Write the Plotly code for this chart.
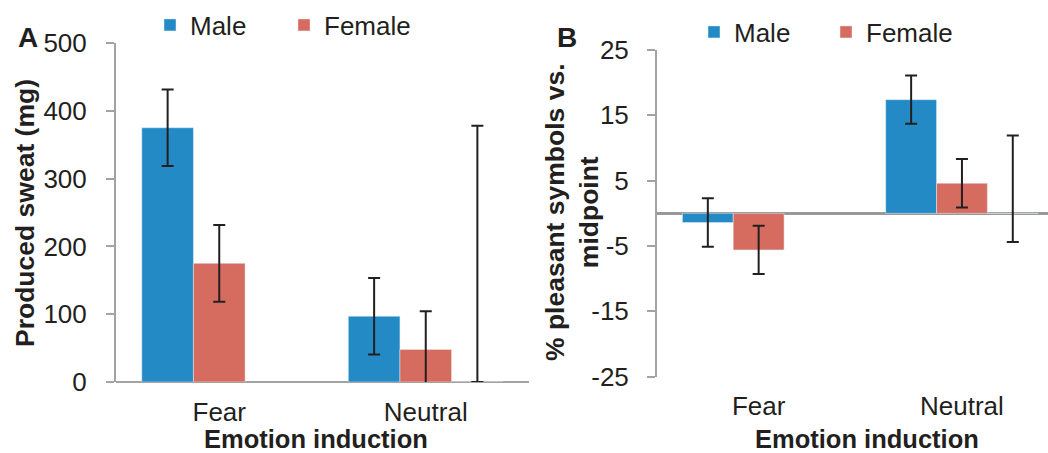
import plotly.graph_objects as go

# Categories on both panels
categories = ["Fear", "Neutral"]

# Panel A: produced sweat (mg)
sweat_male = [375, 97]
sweat_female = [175, 48]
sweat_male_err = [56.5, 56.5]
sweat_female_err = [56.5, 56.5]
sweat_extra_y = [None, 0]
sweat_extra_plus = [None, 378]
sweat_extra_minus = [None, 0]

# Panel B: % pleasant symbols vs. midpoint
pleasant_male = [-1.4, 17.4]
pleasant_female = [-5.6, 4.6]
pleasant_male_err = [3.7, 3.7]
pleasant_female_err = [3.7, 3.7]
pleasant_extra_y = [None, 0]
pleasant_extra_plus = [None, 11.9]
pleasant_extra_minus = [None, 4.4]

sweat_ticks = [0, 100, 200, 300, 400, 500]
sweat_ticktext = ["0", "100", "200", "300", "400", "500"]
pleasant_ticks = [-25, -15, -5, 5, 15, 25]
pleasant_ticktext = ["-25", "-15", "-5", "5", "15", "25"]

BLUE = "#238ac6"
RED = "#d66c5f"
INK = "#231f20"
GREY = "#a3a3a3"
FONT = "Liberation Sans, Arial, sans-serif"

W, H = 1048, 453


def err(vals, minus=None):
    d = dict(type="data", array=vals, color=INK, thickness=2, width=6)
    if minus is not None:
        d["symmetric"] = False
        d["arrayminus"] = minus
    else:
        d["symmetric"] = True
    return d


fig = go.Figure()

# Panel A traces
fig.add_trace(go.Bar(x=categories, y=sweat_male, name="Male", marker_color=BLUE,
                     error_y=err(sweat_male_err), xaxis="x", yaxis="y", legend="legend"))
fig.add_trace(go.Bar(x=categories, y=sweat_female, name="Female", marker_color=RED,
                     error_y=err(sweat_female_err), xaxis="x", yaxis="y", legend="legend"))
fig.add_trace(go.Bar(x=categories, y=sweat_extra_y, name="", marker_color="rgba(0,0,0,0)",
                     error_y=err(sweat_extra_plus, sweat_extra_minus), showlegend=False,
                     xaxis="x", yaxis="y"))

# Panel B traces
fig.add_trace(go.Bar(x=categories, y=pleasant_male, name="Male", marker_color=BLUE,
                     error_y=err(pleasant_male_err), xaxis="x2", yaxis="y2", legend="legend2"))
fig.add_trace(go.Bar(x=categories, y=pleasant_female, name="Female", marker_color=RED,
                     error_y=err(pleasant_female_err), xaxis="x2", yaxis="y2", legend="legend2"))
fig.add_trace(go.Bar(x=categories, y=pleasant_extra_y, name="", marker_color="rgba(0,0,0,0)",
                     error_y=err(pleasant_extra_plus, pleasant_extra_minus), showlegend=False,
                     xaxis="x2", yaxis="y2"))

tickfont = dict(family=FONT, size=26, color=INK)

# plot-area pixel bounds
ax_l, ax_r, ay_t, ay_b = 116, 529, 43, 382
bx_l, bx_r, by_t, by_b = 657, 1048, 50, 376.7
b_cat_w = 203.3  # pixel width of one category on panel B

fig.update_layout(
    width=W, height=H,
    margin=dict(l=0, r=0, t=0, b=0, autoexpand=False),
    paper_bgcolor="white", plot_bgcolor="white",
    barmode="group", bargap=0.25, bargroupgap=0,
    font=dict(family=FONT, color=INK),
    xaxis=dict(domain=[ax_l / W, ax_r / W], anchor="y", showgrid=False, zeroline=False,
               showline=False, ticks="", tickfont=tickfont, ticklabelstandoff=12,
               range=[-0.5, 1.5], automargin=False),
    yaxis=dict(domain=[1 - ay_b / H, 1 - ay_t / H], anchor="x", range=[0, 500],
               tickvals=sweat_ticks, ticktext=sweat_ticktext, showgrid=False,
               zeroline=True, zerolinecolor=GREY, zerolinewidth=2,
               showline=True, linecolor=GREY, linewidth=2,
               ticks="outside", ticklen=8, tickcolor=GREY, tickwidth=2,
               tickfont=tickfont, ticklabelstandoff=14, automargin=False),
    xaxis2=dict(domain=[bx_l / W, bx_r / W], anchor="y2", showgrid=False, zeroline=False,
                showline=False, ticks="", tickfont=tickfont, ticklabelstandoff=11,
                range=[-0.5, -0.5 + (bx_r - bx_l) / b_cat_w], automargin=False),
    yaxis2=dict(domain=[1 - by_b / H, 1 - by_t / H], anchor="x2", range=[-25, 25],
                tickvals=pleasant_ticks, ticktext=pleasant_ticktext, showgrid=False,
                zeroline=True, zerolinecolor="#999999", zerolinewidth=3,
                showline=True, linecolor=GREY, linewidth=2,
                ticks="outside", ticklen=8, tickcolor=GREY, tickwidth=2,
                tickfont=tickfont, ticklabelstandoff=13, automargin=False),
    legend=dict(orientation="h", x=150 / W, y=1 - 25 / H, xanchor="left", yanchor="middle",
                font=dict(family=FONT, size=26, color=INK), entrywidth=89,
                entrywidthmode="pixels", bgcolor="rgba(0,0,0,0)"),
    legend2=dict(orientation="h", x=694 / W, y=1 - 32 / H, xanchor="left", yanchor="middle",
                 font=dict(family=FONT, size=26, color=INK), entrywidth=87,
                 entrywidthmode="pixels", bgcolor="rgba(0,0,0,0)"),
)

bold = dict(family=FONT, size=26.5, color=INK)
xbold = dict(family=FONT, size=25.5, color=INK)
annos = [
    dict(text="<b>A</b>", x=28 / W, y=1 - 38 / H, font=dict(family=FONT, size=28, color=INK)),
    dict(text="<b>B</b>", x=567 / W, y=1 - 38 / H, font=dict(family=FONT, size=28, color=INK)),
    dict(text="<b>Emotion induction</b>", x=316 / W, y=1 - 439 / H, font=xbold),
    dict(text="<b>Emotion induction</b>", x=867 / W, y=1 - 439 / H, font=xbold),
    dict(text="<b>Produced sweat (mg)</b>", x=25 / W, y=1 - 213 / H, textangle=-90, font=bold),
    dict(text="<b>% pleasant symbols vs.<br>midpoint</b>", x=572 / W, y=1 - 212 / H,
         textangle=-90, font=bold),
]
for a in annos:
    a.update(xref="paper", yref="paper", showarrow=False, xanchor="center", yanchor="middle")
fig.update_layout(annotations=annos)

fig.write_html("out.html")
